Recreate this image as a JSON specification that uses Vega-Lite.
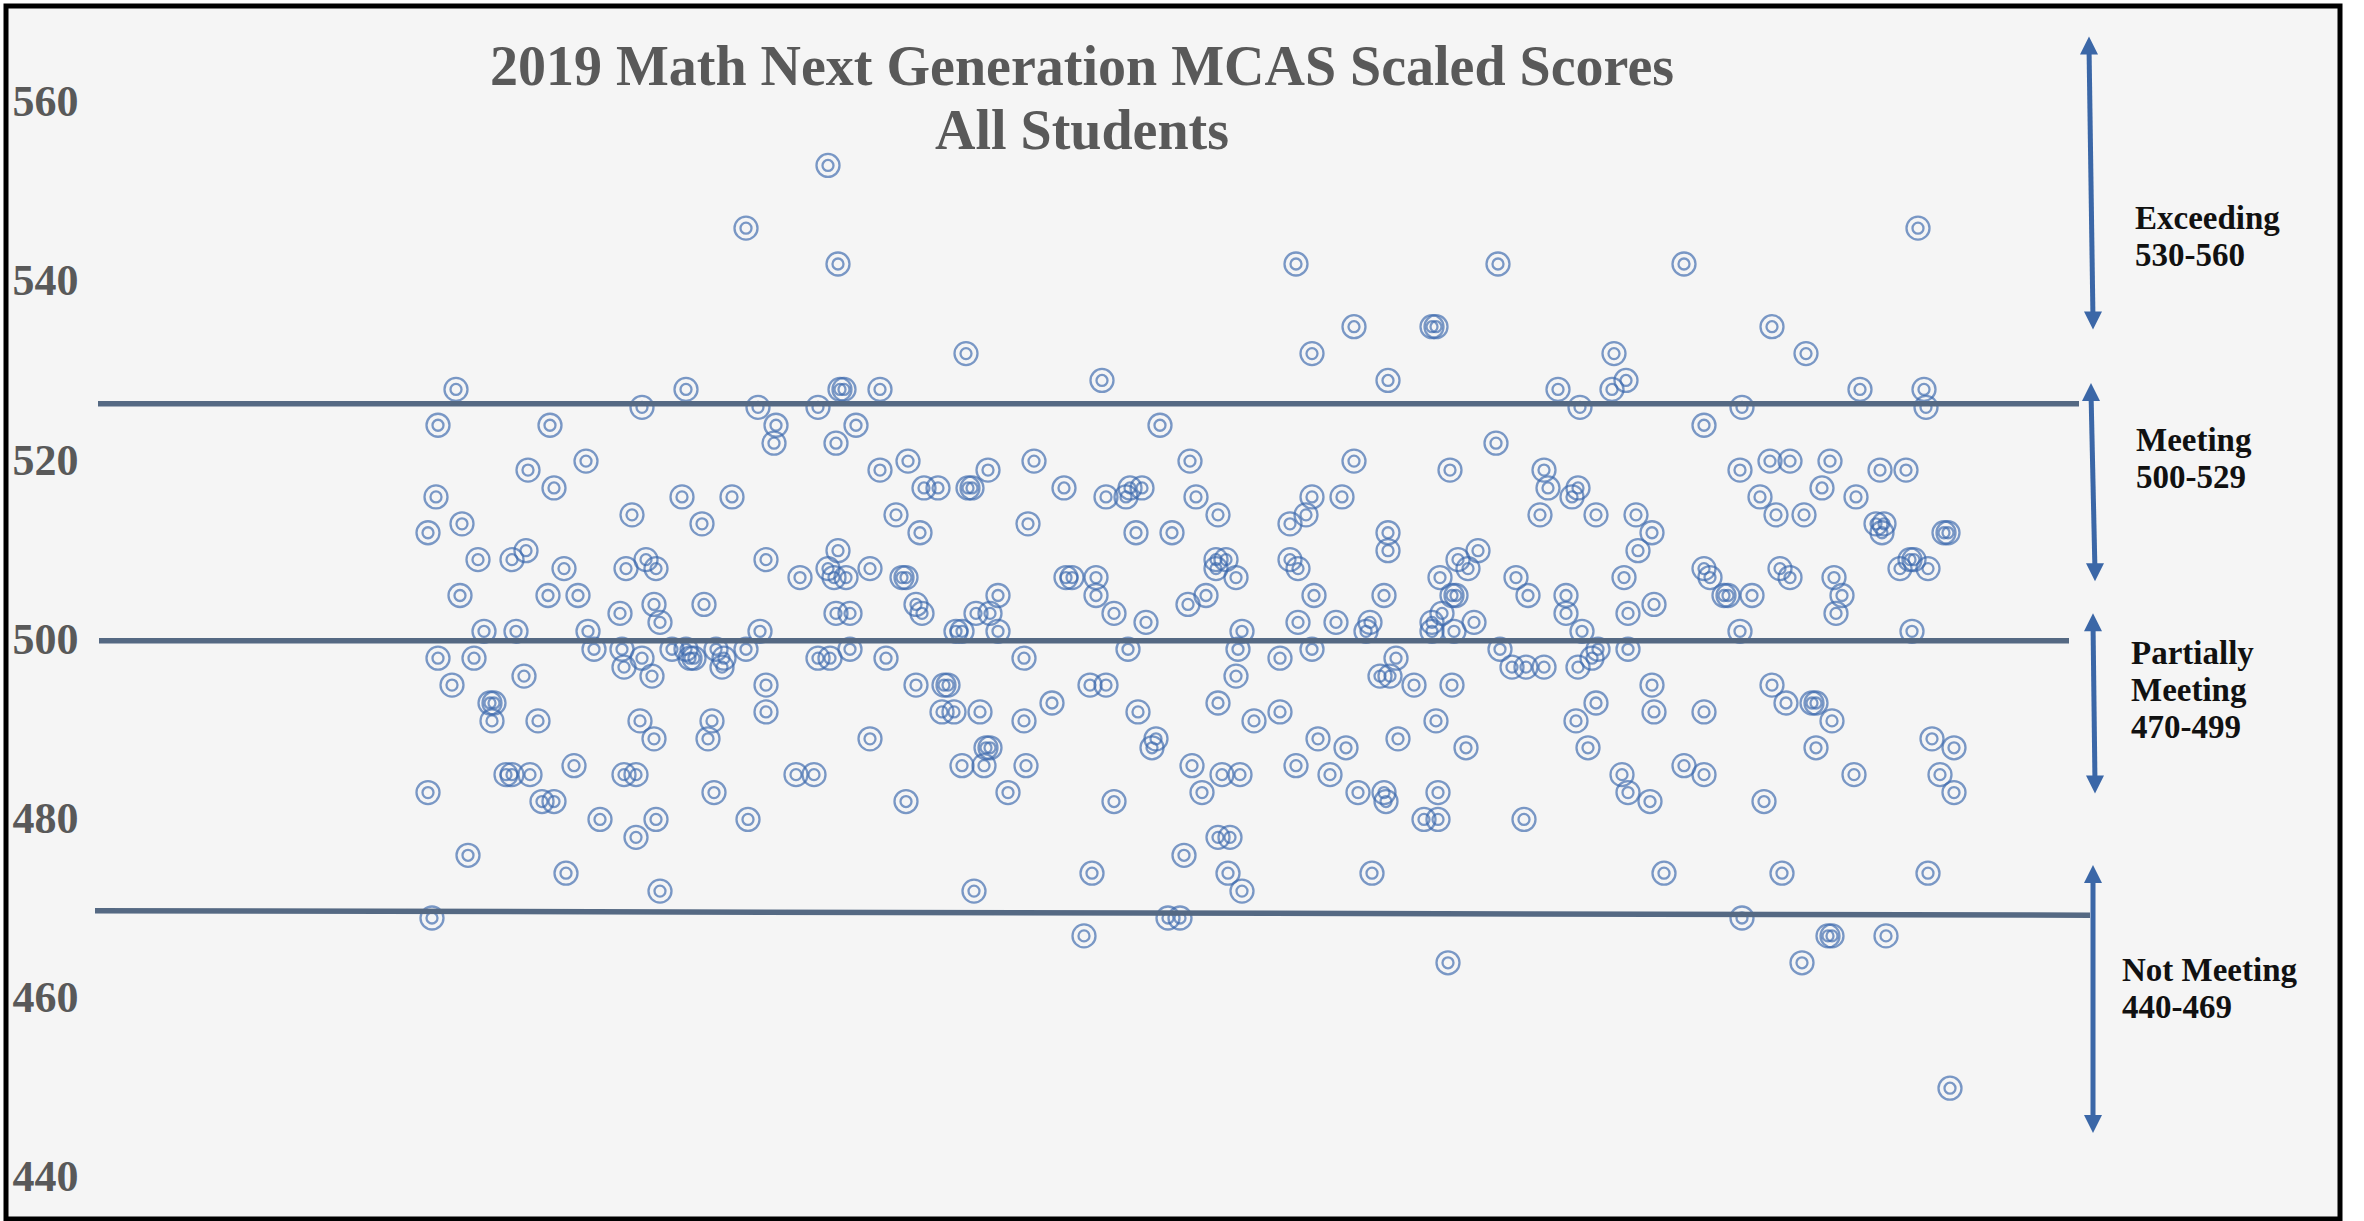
{
  "$schema": "https://vega.github.io/schema/vega-lite/v6.json",
  "width": 2364,
  "height": 1221,
  "autosize": {"type": "fit", "contains": "padding"},
  "padding": {"left": 6, "top": 6, "right": 24, "bottom": 2},
  "background": "#ffffff",
  "config": {
    "view": {"fill": "#f5f5f5", "stroke": "#000000", "strokeWidth": 5},
    "axisY": {
      "domain": false, "ticks": false, "grid": false, "tickSize": 0,
      "labelFont": "Liberation Serif", "labelFontWeight": "bold", "labelFontSize": 44,
      "labelColor": "#595959", "labelAlign": "left", "labelBaseline": "middle",
      "labelPadding": 0, "labelOverlap": false, "labelFlush": false
    }
  },
  "title": {
    "text": ["2019 Math Next Generation MCAS Scaled Scores", "All Students"],
    "font": "Liberation Serif", "fontSize": 56, "fontWeight": "bold", "color": "#595959",
    "lineHeight": 64, "anchor": "middle", "frame": "group", "dx": -91, "offset": -155
  },
  "datasets": {
    "scores": [
      {"x":414,"score":553},{"x":373,"score":546},{"x":419,"score":542},
      {"x":228,"score":528},{"x":343,"score":528},{"x":420,"score":528},{"x":422,"score":528},{"x":440,"score":528},
      {"x":321,"score":526},{"x":379,"score":526},{"x":409,"score":526},
      {"x":219,"score":524},{"x":275,"score":524},{"x":388,"score":524},{"x":428,"score":524},
      {"x":387,"score":522},{"x":418,"score":522},
      {"x":293,"score":520},{"x":454,"score":520},
      {"x":264,"score":519},{"x":440,"score":519},
      {"x":277,"score":517},{"x":462,"score":517},
      {"x":218,"score":516},{"x":341,"score":516},{"x":366,"score":516},
      {"x":316,"score":514},{"x":448,"score":514},
      {"x":231,"score":513},{"x":351,"score":513},
      {"x":214,"score":512},{"x":460,"score":512},
      {"x":263,"score":510},{"x":419,"score":510},
      {"x":239,"score":509},{"x":256,"score":509},{"x":323,"score":509},{"x":383,"score":509},
      {"x":282,"score":508},{"x":313,"score":508},{"x":328,"score":508},{"x":414,"score":508},{"x":435,"score":508},
      {"x":400,"score":507},{"x":417,"score":507},{"x":423,"score":507},{"x":451,"score":507},{"x":453,"score":507},
      {"x":230,"score":505},{"x":274,"score":505},{"x":289,"score":505},
      {"x":327,"score":504},{"x":352,"score":504},{"x":458,"score":504},
      {"x":310,"score":503},{"x":418,"score":503},{"x":425,"score":503},{"x":461,"score":503},
      {"x":330,"score":502},
      {"x":242,"score":501},{"x":258,"score":501},{"x":294,"score":501},{"x":380,"score":501},
      {"x":297,"score":499},{"x":311,"score":499},{"x":336,"score":499},{"x":343,"score":499},{"x":358,"score":499},{"x":373,"score":499},{"x":425,"score":499},
      {"x":219,"score":498},{"x":237,"score":498},{"x":321,"score":498},{"x":345,"score":498},{"x":347,"score":498},{"x":362,"score":498},{"x":409,"score":498},{"x":415,"score":498},{"x":443,"score":498},
      {"x":312,"score":497},{"x":361,"score":497},
      {"x":262,"score":496},{"x":326,"score":496},
      {"x":226,"score":495},{"x":383,"score":495},{"x":458,"score":495},
      {"x":245,"score":493},{"x":247,"score":493},
      {"x":383,"score":492},
      {"x":246,"score":491},{"x":269,"score":491},{"x":320,"score":491},{"x":356,"score":491},
      {"x":327,"score":489},{"x":354,"score":489},{"x":435,"score":489},
      {"x":287,"score":486},
      {"x":253,"score":485},{"x":256,"score":485},{"x":265,"score":485},{"x":312,"score":485},{"x":318,"score":485},{"x":398,"score":485},{"x":407,"score":485},
      {"x":214,"score":483},{"x":357,"score":483},
      {"x":271,"score":482},{"x":277,"score":482},{"x":453,"score":482},
      {"x":300,"score":480},{"x":328,"score":480},{"x":374,"score":480},
      {"x":318,"score":478},{"x":234,"score":476},{"x":283,"score":474},{"x":330,"score":472},{"x":216,"score":469},
      {"x":648,"score":542},
      {"x":677,"score":535},{"x":716,"score":535},{"x":718,"score":535},
      {"x":483,"score":532},{"x":656,"score":532},
      {"x":551,"score":529},{"x":694,"score":529},
      {"x":580,"score":524},
      {"x":517,"score":520},{"x":595,"score":520},{"x":677,"score":520},
      {"x":494,"score":519},
      {"x":469,"score":517},{"x":484,"score":517},{"x":486,"score":517},{"x":532,"score":517},{"x":565,"score":517},{"x":571,"score":517},
      {"x":553,"score":516},{"x":563,"score":516},{"x":598,"score":516},{"x":656,"score":516},{"x":671,"score":516},
      {"x":609,"score":514},{"x":653,"score":514},
      {"x":514,"score":513},{"x":645,"score":513},
      {"x":568,"score":512},{"x":586,"score":512},{"x":694,"score":512},
      {"x":694,"score":510},
      {"x":608,"score":509},{"x":613,"score":509},{"x":645,"score":509},
      {"x":608,"score":508},{"x":649,"score":508},
      {"x":533,"score":507},{"x":536,"score":507},{"x":548,"score":507},{"x":618,"score":507},
      {"x":499,"score":505},{"x":548,"score":505},{"x":603,"score":505},{"x":657,"score":505},{"x":692,"score":505},
      {"x":594,"score":504},
      {"x":488,"score":503},{"x":495,"score":503},{"x":557,"score":503},
      {"x":573,"score":502},{"x":649,"score":502},{"x":668,"score":502},{"x":685,"score":502},
      {"x":478,"score":501},{"x":481,"score":501},{"x":499,"score":501},{"x":621,"score":501},{"x":683,"score":501},
      {"x":564,"score":499},{"x":619,"score":499},{"x":656,"score":499},
      {"x":512,"score":498},{"x":640,"score":498},{"x":698,"score":498},
      {"x":618,"score":496},{"x":690,"score":496},{"x":695,"score":496},
      {"x":472,"score":495},{"x":474,"score":495},{"x":545,"score":495},{"x":553,"score":495},{"x":707,"score":495},
      {"x":526,"score":493},{"x":609,"score":493},
      {"x":471,"score":492},{"x":477,"score":492},{"x":490,"score":492},{"x":569,"score":492},{"x":640,"score":492},
      {"x":512,"score":491},{"x":627,"score":491},
      {"x":578,"score":489},{"x":659,"score":489},{"x":699,"score":489},
      {"x":493,"score":488},{"x":495,"score":488},{"x":576,"score":488},{"x":673,"score":488},
      {"x":481,"score":486},{"x":492,"score":486},{"x":513,"score":486},{"x":596,"score":486},{"x":648,"score":486},
      {"x":611,"score":485},{"x":620,"score":485},{"x":665,"score":485},
      {"x":504,"score":483},{"x":601,"score":483},{"x":679,"score":483},{"x":692,"score":483},
      {"x":557,"score":482},{"x":693,"score":482},
      {"x":712,"score":480},
      {"x":609,"score":478},{"x":615,"score":478},
      {"x":592,"score":476},
      {"x":546,"score":474},{"x":614,"score":474},{"x":686,"score":474},
      {"x":487,"score":472},{"x":621,"score":472},
      {"x":584,"score":469},{"x":590,"score":469},
      {"x":542,"score":467},
      {"x":959,"score":546},
      {"x":749,"score":542},{"x":842,"score":542},
      {"x":886,"score":535},
      {"x":807,"score":532},{"x":903,"score":532},
      {"x":813,"score":529},
      {"x":779,"score":528},{"x":806,"score":528},{"x":930,"score":528},{"x":962,"score":528},
      {"x":790,"score":526},{"x":871,"score":526},{"x":963,"score":526},
      {"x":852,"score":524},
      {"x":748,"score":522},
      {"x":885,"score":520},{"x":895,"score":520},{"x":915,"score":520},
      {"x":725,"score":519},{"x":772,"score":519},{"x":870,"score":519},{"x":940,"score":519},{"x":953,"score":519},
      {"x":774,"score":517},{"x":789,"score":517},{"x":911,"score":517},
      {"x":786,"score":516},{"x":880,"score":516},{"x":928,"score":516},
      {"x":770,"score":514},{"x":798,"score":514},{"x":818,"score":514},{"x":888,"score":514},{"x":902,"score":514},
      {"x":938,"score":513},{"x":942,"score":513},
      {"x":826,"score":512},{"x":941,"score":512},{"x":972,"score":512},{"x":974,"score":512},
      {"x":739,"score":510},{"x":819,"score":510},
      {"x":729,"score":509},{"x":955,"score":509},{"x":957,"score":509},
      {"x":734,"score":508},{"x":852,"score":508},{"x":890,"score":508},{"x":950,"score":508},{"x":964,"score":508},
      {"x":720,"score":507},{"x":758,"score":507},{"x":812,"score":507},{"x":855,"score":507},{"x":895,"score":507},{"x":917,"score":507},
      {"x":726,"score":505},{"x":728,"score":505},{"x":764,"score":505},{"x":783,"score":505},{"x":862,"score":505},{"x":864,"score":505},{"x":876,"score":505},{"x":921,"score":505},
      {"x":827,"score":504},
      {"x":721,"score":503},{"x":783,"score":503},{"x":814,"score":503},{"x":918,"score":503},
      {"x":716,"score":502},{"x":737,"score":502},
      {"x":716,"score":501},{"x":727,"score":501},{"x":791,"score":501},{"x":870,"score":501},{"x":956,"score":501},
      {"x":750,"score":499},{"x":799,"score":499},{"x":814,"score":499},
      {"x":796,"score":498},
      {"x":756,"score":497},{"x":763,"score":497},{"x":772,"score":497},{"x":789,"score":497},
      {"x":726,"score":495},{"x":826,"score":495},{"x":886,"score":495},
      {"x":798,"score":493},{"x":893,"score":493},{"x":906,"score":493},{"x":908,"score":493},
      {"x":827,"score":492},{"x":852,"score":492},
      {"x":718,"score":491},{"x":788,"score":491},{"x":916,"score":491},
      {"x":966,"score":489},
      {"x":733,"score":488},{"x":794,"score":488},{"x":908,"score":488},{"x":977,"score":488},
      {"x":842,"score":486},
      {"x":811,"score":485},{"x":852,"score":485},{"x":927,"score":485},{"x":970,"score":485},
      {"x":719,"score":483},{"x":814,"score":483},{"x":977,"score":483},
      {"x":825,"score":482},{"x":882,"score":482},
      {"x":719,"score":480},{"x":762,"score":480},
      {"x":832,"score":474},{"x":891,"score":474},{"x":964,"score":474},
      {"x":871,"score":469},
      {"x":914,"score":467},{"x":916,"score":467},{"x":943,"score":467},
      {"x":724,"score":464},{"x":901,"score":464},
      {"x":975,"score":450}
    ],
    "cuts": [
      {"x1": 49, "x2": 1039.5, "y1": 526.4, "y2": 526.4},
      {"x1": 49.5, "x2": 1034.5, "y1": 499.95, "y2": 499.95},
      {"x1": 47.5, "x2": 1045, "y1": 469.82, "y2": 469.31}
    ],
    "shafts": [
      {"x1": 1044.5, "x2": 1046.5, "y1": 566.4, "y2": 535.7},
      {"x1": 1045.5, "x2": 1047.5, "y1": 527.7, "y2": 507.6},
      {"x1": 1046.5, "x2": 1047.5, "y1": 502.0, "y2": 483.9},
      {"x1": 1046.5, "x2": 1046.5, "y1": 473.9, "y2": 446.0}
    ],
    "bands": [
      {"x": 1067.5, "y": 545.9, "label": "Exceeding\n530-560"},
      {"x": 1068, "y": 521.1, "label": "Meeting\n500-529"},
      {"x": 1065.5, "y": 497.4, "label": "Partially\nMeeting\n470-499"},
      {"x": 1061, "y": 462.0, "label": "Not Meeting\n440-469"}
    ]
  },
  "layer": [
    {
      "data": {"name": "scores"},
      "mark": {"type": "point", "shape": "circle", "filled": false, "size": 529, "strokeWidth": 2.3, "color": "#3a68ad", "opacity": 0.66},
      "encoding": {
        "x": {"field": "x", "type": "quantitative", "scale": {"domain": [3, 1170], "nice": false, "zero": false}, "axis": null},
        "y": {"field": "score", "type": "quantitative", "scale": {"domain": [435.4, 570.8], "nice": false, "zero": false}, "axis": {"values": [440, 460, 480, 500, 520, 540, 560], "title": null, "offset": -6}}
      }
    },
    {
      "data": {"name": "scores"},
      "mark": {"type": "point", "shape": "circle", "filled": false, "size": 121, "strokeWidth": 2.3, "color": "#3a68ad", "opacity": 0.66},
      "encoding": {
        "x": {"field": "x", "type": "quantitative", "axis": null},
        "y": {"field": "score", "type": "quantitative", "axis": {"values": [440, 460, 480, 500, 520, 540, 560], "title": null, "offset": -6}}
      }
    },
    {
      "data": {"name": "cuts"},
      "mark": {"type": "rule", "strokeWidth": 5.5, "color": "#556983"},
      "encoding": {
        "x": {"field": "x1", "type": "quantitative", "axis": null},
        "x2": {"field": "x2"},
        "y": {"field": "y1", "type": "quantitative", "axis": {"values": [440, 460, 480, 500, 520, 540, 560], "title": null, "offset": -6}},
        "y2": {"field": "y2"}
      }
    },
    {
      "data": {"name": "shafts"},
      "mark": {"type": "rule", "strokeWidth": 5, "color": "#3b67a7"},
      "encoding": {
        "x": {"field": "x1", "type": "quantitative", "axis": null},
        "x2": {"field": "x2"},
        "y": {"field": "y1", "type": "quantitative", "axis": {"values": [440, 460, 480, 500, 520, 540, 560], "title": null, "offset": -6}},
        "y2": {"field": "y2"}
      }
    },
    {
      "data": {"name": "shafts"},
      "mark": {"type": "point", "shape": "M0,-1L1,1L-1,1Z", "filled": true, "size": 324, "color": "#3b67a7", "opacity": 1, "strokeWidth": 0},
      "encoding": {
        "x": {"field": "x1", "type": "quantitative", "axis": null},
        "y": {"field": "y1", "type": "quantitative", "axis": {"values": [440, 460, 480, 500, 520, 540, 560], "title": null, "offset": -6}}
      }
    },
    {
      "data": {"name": "shafts"},
      "mark": {"type": "point", "shape": "M0,1L1,-1L-1,-1Z", "filled": true, "size": 324, "color": "#3b67a7", "opacity": 1, "strokeWidth": 0},
      "encoding": {
        "x": {"field": "x2", "type": "quantitative", "axis": null},
        "y": {"field": "y2", "type": "quantitative", "axis": {"values": [440, 460, 480, 500, 520, 540, 560], "title": null, "offset": -6}}
      }
    },
    {
      "data": {"name": "bands"},
      "mark": {"type": "text", "lineBreak": "\n", "align": "left", "baseline": "alphabetic", "font": "Liberation Serif", "fontWeight": "bold", "fontSize": 33, "lineHeight": 37, "color": "#111111"},
      "encoding": {
        "x": {"field": "x", "type": "quantitative", "axis": null},
        "y": {"field": "y", "type": "quantitative", "axis": {"values": [440, 460, 480, 500, 520, 540, 560], "title": null, "offset": -6}},
        "text": {"field": "label"}
      }
    }
  ]
}
